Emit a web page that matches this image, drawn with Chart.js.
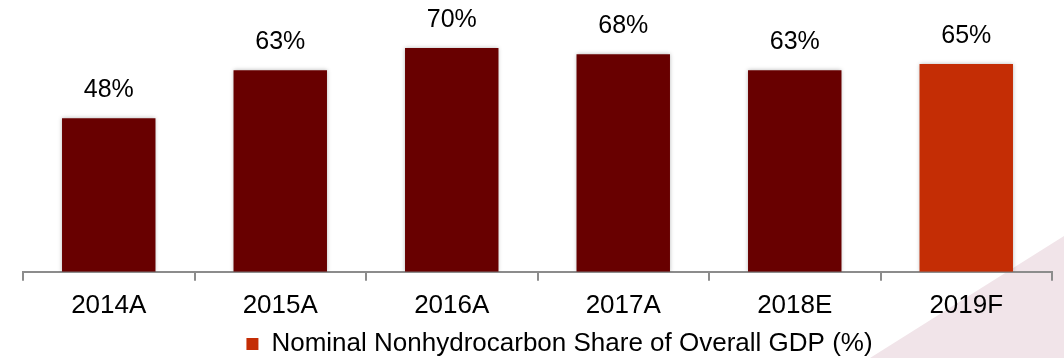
<!DOCTYPE html>
<html>
<head>
<meta charset="utf-8">
<script src="https://cdn.jsdelivr.net/npm/chart.js@4.4.1/dist/chart.umd.min.js"></script>
<style>
  html, body { margin: 0; padding: 0; background: #ffffff; }
  #wrap { position: relative; width: 1064px; height: 358px; }
</style>
</head>
<body>
<div id="wrap"><canvas id="c" width="1064" height="358"></canvas></div>
<script>
// Nominal nonhydrocarbon share of overall GDP, by year
const categories = ['2014A', '2015A', '2016A', '2017A', '2018E', '2019F'];
const shareValues = [48, 63, 70, 68, 63, 65];
const valueLabels = ['48%', '63%', '70%', '68%', '63%', '65%'];
const seriesName = 'Nominal Nonhydrocarbon Share of Overall GDP (%)';

const DARK = '#680000';
const FORECAST = '#c42d05';
const barColors = categories.map(c => c.endsWith('F') ? FORECAST : DARK);
const FONT = '"Liberation Sans", Arial, sans-serif';

// soft pink wedge in the lower-right corner
const backdrop = {
  id: 'backdrop',
  beforeDraw(chart) {
    const ctx = chart.ctx;
    const w = chart.width, h = chart.height;
    ctx.save();
    ctx.fillStyle = '#f1e4e9';
    ctx.beginPath();
    ctx.moveTo(870, h);
    ctx.lineTo(w, 236);
    ctx.lineTo(w, h);
    ctx.closePath();
    ctx.fill();
    ctx.restore();
  }
};

// nudge the legend right of centre and slightly down
const legendShift = {
  id: 'legendShift',
  afterLayout(chart) {
    const lg = chart.legend;
    if (lg) {
      lg.left += 22;
      lg.right += 22;
      lg.top += 1;
      lg.bottom += 1;
    }
  }
};

// light shadow around each bar
const barShadow = {
  id: 'barShadow',
  beforeDatasetDraw(chart) {
    const ctx = chart.ctx;
    ctx.save();
    ctx.shadowColor = 'rgba(0,0,0,0.28)';
    ctx.shadowBlur = 4;
    ctx.shadowOffsetX = 0;
    ctx.shadowOffsetY = 0;
  },
  afterDatasetDraw(chart) {
    chart.ctx.restore();
  }
};

// percentage labels above the bars
const valueLabelPlugin = {
  id: 'valueLabels',
  afterDatasetsDraw(chart) {
    const ctx = chart.ctx;
    const meta = chart.getDatasetMeta(0);
    ctx.save();
    ctx.font = '25px ' + FONT;
    ctx.fillStyle = '#000000';
    ctx.textAlign = 'center';
    ctx.textBaseline = 'middle';
    meta.data.forEach((bar, i) => {
      ctx.fillText(valueLabels[i], bar.x, bar.y - 28);
    });
    ctx.restore();
  }
};

new Chart(document.getElementById('c'), {
  type: 'bar',
  data: {
    labels: categories,
    datasets: [{
      label: seriesName,
      data: shareValues,
      backgroundColor: barColors,
      borderWidth: 0,
      categoryPercentage: 0.545,
      barPercentage: 1.0
    }]
  },
  options: {
    responsive: false,
    animation: false,
    devicePixelRatio: 1,
    layout: { padding: { left: 23, right: 12, top: 0, bottom: -8 } },
    scales: {
      x: {
        grid: {
          offset: true,
          drawOnChartArea: false,
          drawTicks: true,
          tickLength: 9,
          color: '#8c8c8c',
          lineWidth: 2
        },
        border: { display: true, color: '#8c8c8c', width: 2 },
        ticks: {
          color: '#000000',
          font: { family: FONT, size: 26 },
          padding: 9
        }
      },
      y: {
        display: false,
        min: 0,
        max: 85
      }
    },
    plugins: {
      legend: {
        display: true,
        position: 'bottom',
        labels: {
          boxWidth: 12,
          boxHeight: 12,
          padding: 0,
          color: '#000000',
          font: { family: FONT, size: 26 },
          generateLabels() {
            return [{
              text: seriesName,
              fillStyle: FORECAST,
              strokeStyle: FORECAST,
              lineWidth: 0,
              hidden: false,
              datasetIndex: 0
            }];
          }
        }
      },
      tooltip: { enabled: false }
    }
  },
  plugins: [backdrop, legendShift, barShadow, valueLabelPlugin]
});
</script>
</body>
</html>
